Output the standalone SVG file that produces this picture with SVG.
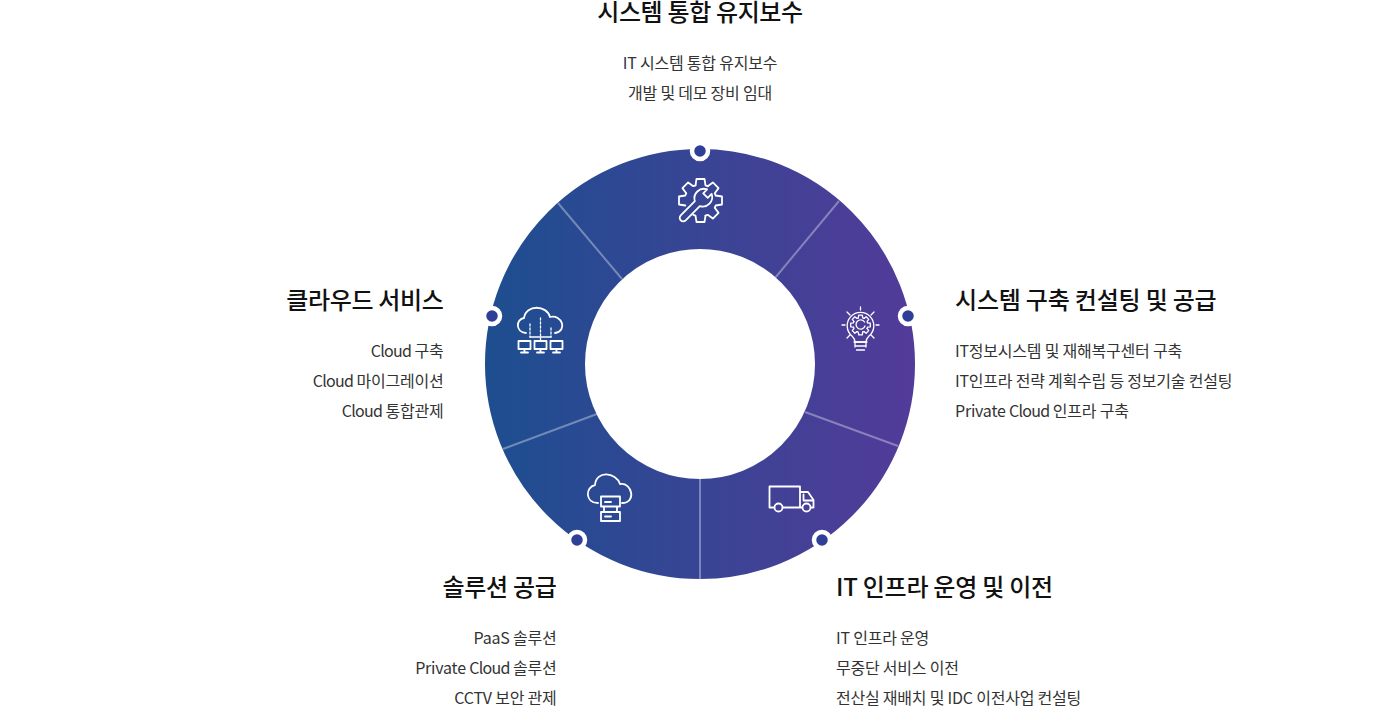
<svg xmlns="http://www.w3.org/2000/svg" xmlns:xlink="http://www.w3.org/1999/xlink" width="1400" height="710" viewBox="0 0 1400 710">
<style>
text{font-family:"Noto Sans CJK KR","Noto Sans",sans-serif;fill:#333}
.t{font-size:24px;font-weight:500;fill:#111;letter-spacing:-.3px}
.b{font-size:16px;letter-spacing:-.22px}
.l{letter-spacing:-.72px}
.m{text-anchor:middle}.e{text-anchor:end}
.sep{stroke:#fff;stroke-opacity:.35;stroke-width:2;fill:none}
.dot{fill:#2f3f98;stroke:#fff;stroke-width:4.5}
.ic{fill:none;stroke:#fff;stroke-width:1.8;stroke-linejoin:round;stroke-linecap:round}
.thin{stroke-width:1.3}
</style>
<defs>
<linearGradient id="g" gradientUnits="userSpaceOnUse" x1="485" y1="364" x2="915" y2="364"><stop offset="0" stop-color="#1d4e90"/><stop offset="1" stop-color="#533b99"/></linearGradient>
<path id="tooth" d="M-5 -15.2L-4 -21.5H4L5 -15.2L7.2 -14.3"/>
<path id="tooth2" d="M-2.2 -7.2L-1.8 -9.8H1.8L2.2 -7.2L3.3 -6.5"/>
</defs>
<g id="ring"><circle cx="700" cy="364" r="165" fill="none" stroke="url(#g)" stroke-width="100"/></g>
<g id="connectors">
<path class="sep" d="M700 479V579M805 412L898 446M775 278L839 201M622 279L558 203M597 414L503 449"/>
</g>
<g id="node-top">
<circle class="dot" cx="700" cy="151" r="8"/>
<text class="t m" x="700" y="21" style="letter-spacing:-.35px">시스템 통합 유지보수</text>
<text class="b m" x="700" y="69">IT 시스템 통합 유지보수</text>
<text class="b m" x="700" y="99">개발 및 데모 장비 임대</text>
<g class="ic">
<g transform="translate(700.5 200.5)">
<use href="#tooth"/><use href="#tooth" transform="rotate(45)"/><use href="#tooth" transform="rotate(90)"/><use href="#tooth" transform="rotate(135)"/><use href="#tooth" transform="rotate(180)"/><use href="#tooth" transform="rotate(270)"/><use href="#tooth" transform="rotate(315)"/>
</g>
<path d="M3.2 -9L3.2 -3.5L-3.2 -3.5L-3.2 -9A9.5 9.5 0 0 0 -3.5 8L-3.5 28A3.5 3.5 0 0 0 3.5 28L3.5 8A9.5 9.5 0 0 0 3.2 -9Z" transform="translate(703 198) rotate(45)"/>
</g>
</g>
<g id="node-right">
<circle class="dot" cx="908" cy="316" r="8"/>
<text class="t" x="955" y="309" style="letter-spacing:-.2px">시스템 구축 컨설팅 및 공급</text>
<text class="b" x="955" y="357">IT정보시스템 및 재해복구센터 구축</text>
<text class="b" x="955" y="387">IT인프라 전략 계획수립 등 정보기술 컨설팅</text>
<text class="b" x="955" y="417">Private <tspan class="l">Cloud</tspan> 인프라 구축</text>
<g class="ic thin">
<path d="M855 342c0-3-1-4-3-6a13.3 13.3 0 1 1 17 0c-2 2-3 3-3 6z"/>
<path d="M854 342h13M855 346h11M855 342v5M866 342v5M856.500 350h8"/>
<g transform="translate(860.500 325)"><use href="#tooth2"/><use href="#tooth2" transform="rotate(45)"/><use href="#tooth2" transform="rotate(90)"/><use href="#tooth2" transform="rotate(135)"/><use href="#tooth2" transform="rotate(180)"/><use href="#tooth2" transform="rotate(225)"/><use href="#tooth2" transform="rotate(270)"/><use href="#tooth2" transform="rotate(315)"/></g>
<path d="M864.500 322a4.600 4.600 0 1 0 .5 4"/>
<path d="M860.500 307v3M847 312l3 3M874 312l-3 3M842 325h3M876 325h3M847 338l3-3M874 338l-3-3"/>
</g>
</g>
<g id="node-bottom-right">
<circle class="dot" cx="822" cy="540" r="8"/>
<text class="t" x="836" y="596" style="letter-spacing:-.25px">IT 인프라 운영 및 이전</text>
<text class="b" x="836" y="644">IT 인프라 운영</text>
<text class="b" x="836" y="674">무중단 서비스 이전</text>
<text class="b" x="836" y="704">전산실 재배치 및 IDC 이전사업 컨설팅</text>
<g class="ic">
<path d="M774 507.500H769.500V486.500H800V507.500M783 507.500H802M811.500 507.500H813.500V500L808 492H800M803.500 494.500V500.500H812"/>
<circle cx="778.500" cy="507.500" r="4"/><circle cx="806.500" cy="507.500" r="4"/>
</g>
</g>
<g id="node-bottom-left">
<circle class="dot" cx="577" cy="540" r="8"/>
<text class="t e" x="556.500" y="596">솔루션 공급</text>
<text class="b e" x="556.500" y="644">PaaS 솔루션</text>
<text class="b e" x="556.500" y="674">Private <tspan class="l">Cloud</tspan> 솔루션</text>
<text class="b e" x="556.500" y="704">CCTV 보안 관제</text>
<g class="ic">
<path d="M598 503c-13 0-13-16-3-18C596 470 616 472 620 484C632 482 637 503 622 503"/>
<path d="M601 496.500h19v10h-19zM601 512h19v9h-19zM604 506.500v5.500M617 506.500v5.500M605 502h6M605 516.500h6"/>
</g>
</g>
<g id="node-left">
<circle class="dot" cx="492" cy="316" r="8"/>
<text class="t e" x="443.500" y="309" style="letter-spacing:-.35px">클라우드 서비스</text>
<text class="b e" x="443.500" y="357"><tspan class="l">Cloud</tspan> 구축</text>
<text class="b e" x="443.500" y="387"><tspan class="l">Cloud</tspan> 마이그레이션</text>
<text class="b e" x="443.500" y="417"><tspan class="l">Cloud</tspan> 통합관제</text>
<g class="ic">
<path d="M526 333c-11-1-10-14-2-15C526 304 547 305 550 317C562 314 568 331 555 333"/>
<path d="M518.500 341h12v8h-12zM534.500 341h12v8h-12zM550.500 341h12v8h-12z"/>
<path d="M521 352.500h7M537 352.500h7M553 352.500h7M524.500 349v3.500M540.500 349v3.500M556.500 349v3.500"/>
<path d="M530 337H551" class="thin"/>
<path d="M530 324v13M540.500 318v23M551 328v9" stroke-dasharray="2 2" class="thin"/>
</g>
</g>
</svg>
